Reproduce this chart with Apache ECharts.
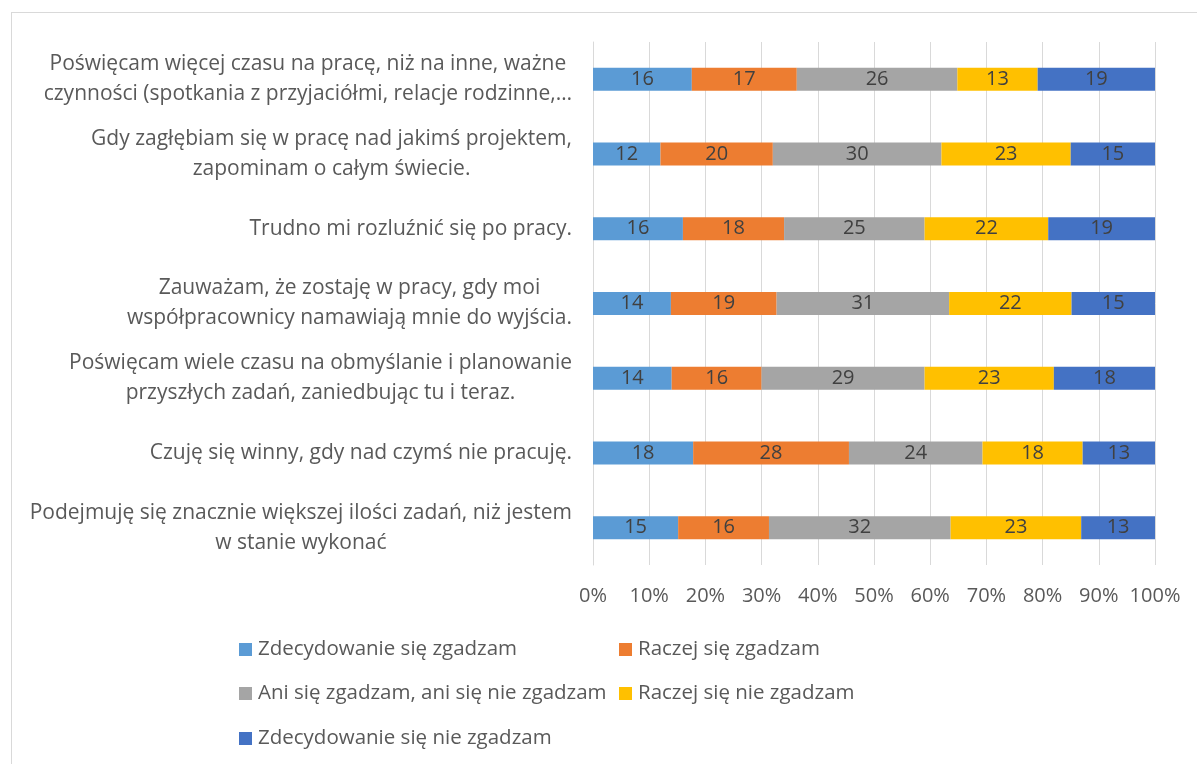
<!DOCTYPE html>
<html>
<head>
<meta charset="utf-8">
<script src="https://cdn.jsdelivr.net/npm/echarts@6/dist/echarts.min.js"></script>
<style>
html,body{margin:0;padding:0;background:#fff;}
#chart{position:absolute;left:0;top:0;width:1197px;height:764px;}
#frame{position:absolute;left:11px;top:12px;width:1200px;height:800px;border-left:1px solid #d9d9d9;border-top:1px solid #d9d9d9;pointer-events:none;}
</style>
</head>
<body>
<div id="chart"></div>
<div id="frame"></div>
<script>
const categories = [
  "Poświęcam więcej czasu na pracę, niż na inne, ważne\nczynności (spotkania z przyjaciółmi, relacje rodzinne,…",
  "Gdy zagłębiam się w pracę nad jakimś projektem,\nzapominam o całym świecie.",
  "Trudno mi rozluźnić się po pracy.",
  "Zauważam, że zostaję w pracy, gdy moi\nwspółpracownicy namawiają mnie do wyjścia.",
  "Poświęcam wiele czasu na obmyślanie i planowanie\nprzyszłych zadań, zaniedbując tu i teraz.",
  "Czuję się winny, gdy nad czymś nie pracuję.",
  "Podejmuję się znacznie większej ilości zadań, niż jestem\nw stanie wykonać"
];
const seriesNames = [
  "Zdecydowanie się zgadzam",
  "Raczej się zgadzam",
  "Ani się zgadzam, ani się nie zgadzam",
  "Raczej się nie zgadzam",
  "Zdecydowanie się nie zgadzam"
];
const zdecydowanieZgadzam = [16, 12, 16, 14, 14, 18, 15];
const raczejZgadzam       = [17, 20, 18, 19, 16, 28, 16];
const ani                 = [26, 30, 25, 31, 29, 24, 32];
const raczejNie           = [13, 23, 22, 22, 23, 18, 23];
const zdecydowanieNie     = [19, 15, 19, 15, 18, 13, 13];
const xTickLabels = ["0%","10%","20%","30%","40%","50%","60%","70%","80%","90%","100%"];
const colors = ["#5B9BD5", "#ED7D31", "#A5A5A5", "#FFC000", "#4472C4"];

const raw = [zdecydowanieZgadzam, raczejZgadzam, ani, raczejNie, zdecydowanieNie];
const totals = categories.map((_, i) => raw.reduce((s, arr) => s + arr[i], 0));

const FONT = "Open Sans";
const series = raw.map((arr, k) => ({
  name: seriesNames[k],
  type: "bar",
  stack: "total",
  barWidth: 23,
  itemStyle: { color: colors[k] },
  label: {
    show: true,
    position: "inside",
    color: "#404040",
    fontFamily: FONT,
    fontSize: 20,
    formatter: p => String(arr[p.dataIndex])
  },
  data: arr.map((v, i) => v / totals[i] * 100)
}));

const legendPos = [
  [239, 639], [619, 639],
  [239, 683], [619, 683],
  [239, 728]
];
const legends = seriesNames.map((n, k) => ({
  data: [n],
  left: legendPos[k][0],
  top: legendPos[k][1],
  icon: "rect",
  itemWidth: 13,
  itemHeight: 13,
  padding: 0,
  selectedMode: false,
  textStyle: { color: "#595959", fontFamily: FONT, fontSize: 20.5, padding: [0,0,0,1] }
}));

const chart = echarts.init(document.getElementById("chart"));
chart.setOption({
  animation: false,
  color: colors,
  legend: legends,
  grid: { left: 593, right: 42, top: 42, height: 523, containLabel: false },
  xAxis: {
    type: "value",
    min: 0, max: 100, interval: 10,
    axisLine: { show: false },
    axisTick: { show: false },
    splitLine: { show: true, lineStyle: { color: "#d9d9d9", width: 1 } },
    axisLabel: {
      color: "#595959", fontFamily: FONT, fontSize: 20, margin: 21,
      formatter: (v) => xTickLabels[Math.round(v / 10)]
    }
  },
  yAxis: {
    type: "category",
    inverse: true,
    data: categories,
    axisLine: { show: true, lineStyle: { color: "#d9d9d9" } },
    axisTick: { show: false },
    axisLabel: {
      margin: 21,
      align: "right",
      lineHeight: 30,
      formatter: (v) => v.split("\n").map(l => "{c|" + l + "}").join("\n"),
      rich: { c: { align: "center", color: "#595959", fontFamily: FONT, fontSize: 21, lineHeight: 30 } }
    }
  },
  series: series
});
</script>
</body>
</html>
